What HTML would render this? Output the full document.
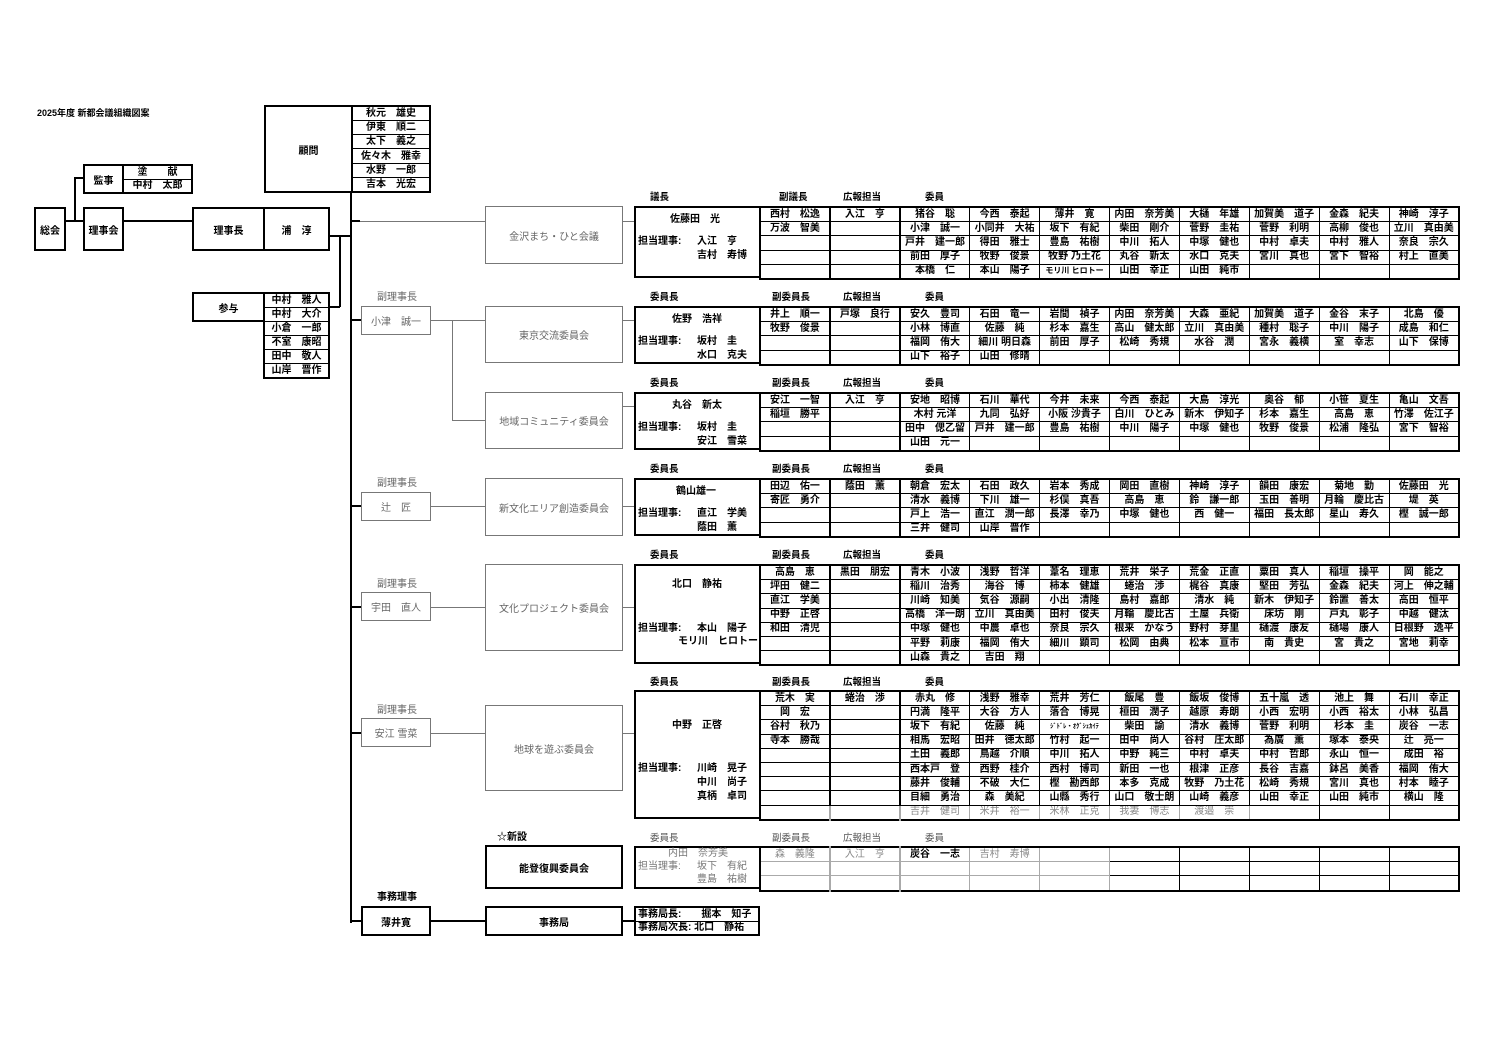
<!DOCTYPE html>
<html><head><meta charset="utf-8">
<style>
body{margin:0;width:1496px;height:1058px;position:relative;background:#fff;font-family:"Liberation Sans","Noto Sans CJK JP",sans-serif;overflow:hidden}
.a{position:absolute;white-space:nowrap;font-size:10px;line-height:14px}
.bd{font-weight:bold}
.b{position:absolute;border:2px solid #000;box-sizing:border-box;display:flex;align-items:center;justify-content:center;font-weight:bold;font-size:10px;background:#fff}
.g{position:absolute;border:1.5px solid #777;box-sizing:border-box;display:flex;align-items:center;justify-content:center;color:#666;font-size:10px;background:#fff}
.l{position:absolute;background:#000}
.lg{position:absolute;background:#777}
.h{position:absolute;font-size:9.5px;font-weight:bold;line-height:12px;white-space:nowrap}
.t{position:absolute;left:759px;width:701px;border-collapse:collapse;table-layout:fixed;border:2px solid #000}
.t td{border:1px solid #000;padding:0;height:13.2px;font-size:10px;font-weight:bold;text-align:center;white-space:nowrap;overflow:hidden;line-height:12px}
.t td:nth-child(1),.t td:nth-child(2){border-right:2px solid #000}
.t tr.gr td{color:#888;font-weight:normal;border-color:#aaa}
.t7 td:nth-child(-n+5){color:#888;font-weight:normal;border-color:#aaa}
.t7 td.k{color:#000;font-weight:bold}
.n{position:absolute;border-collapse:collapse;table-layout:fixed;border:2px solid #000}
.n td{border:1.5px solid #000;padding:0;font-size:10px;font-weight:bold;text-align:center;white-space:nowrap;line-height:11px}
.box{position:absolute;left:634px;width:125px;border:2px solid #000;box-sizing:border-box;border-right:none}
</style></head><body>

<div class="a bd" style="left:37px;top:106px;font-size:9px">2025年度 新都会議組織図案</div>

<div class="b" style="left:264px;top:105px;width:89px;height:88px;font-weight:bold">顧問</div>
<table class="n" style="left:351px;top:105px;width:80px;height:88px">
<tr><td>秋元　雄史</td></tr><tr><td>伊東　順二</td></tr><tr><td>太下　義之</td></tr><tr><td>佐々木　雅幸</td></tr><tr><td>水野　一郎</td></tr><tr><td>吉本　光宏</td></tr></table>

<div class="b" style="left:83px;top:164px;width:41px;height:30px">監事</div>
<table class="n" style="left:122px;top:164px;width:71px;height:30px">
<tr><td>塗　　献</td></tr><tr><td>中村　太郎</td></tr></table>

<div class="b" style="left:34px;top:207px;width:32px;height:44px">総会</div>
<div class="b" style="left:83px;top:207px;width:41px;height:44px">理事会</div>
<div class="b" style="left:192px;top:207px;width:73px;height:44px">理事長</div>
<div class="b" style="left:263px;top:207px;width:67px;height:44px">浦　淳</div>

<div class="l" style="left:65px;top:220px;width:18px;height:2px"></div>
<div class="l" style="left:74px;top:177px;width:2px;height:44px"></div>
<div class="l" style="left:74px;top:177px;width:9px;height:2px"></div>
<div class="l" style="left:123px;top:220px;width:69px;height:2px"></div>
<div class="l" style="left:329px;top:235px;width:22px;height:1.5px"></div>
<div class="l" style="left:339px;top:235px;width:1.5px;height:72px"></div>
<div class="l" style="left:329px;top:306px;width:11px;height:1.5px"></div>

<div class="b" style="left:192px;top:292px;width:73px;height:30px">参与</div>
<table class="n" style="left:263px;top:292px;width:67px;height:87px">
<tr><td>中村　雅人</td></tr><tr><td>中村　大介</td></tr><tr><td>小倉　一郎</td></tr><tr><td>不室　康昭</td></tr><tr><td>田中　敬人</td></tr><tr><td>山岸　晋作</td></tr></table>

<div class="l" style="left:350px;top:192px;width:2px;height:731px"></div>
<div class="l" style="left:350px;top:220px;width:10px;height:2px"></div>
<div class="lg" style="left:360px;top:221px;width:125px;height:1px"></div>

<div class="a" style="left:377px;top:291px;color:#666">副理事長</div>
<div class="g" style="left:361px;top:306px;width:70px;height:29px">小津　誠一</div>
<div class="a" style="left:377px;top:477px;color:#666">副理事長</div>
<div class="g" style="left:361px;top:492px;width:70px;height:29px">辻　匠</div>
<div class="a" style="left:377px;top:578px;color:#666">副理事長</div>
<div class="g" style="left:361px;top:592px;width:70px;height:29px">宇田　直人</div>
<div class="a" style="left:377px;top:704px;color:#666">副理事長</div>
<div class="g" style="left:361px;top:718px;width:70px;height:29px">安江 雪菜</div>
<div class="a bd" style="left:377px;top:891px">事務理事</div>
<div class="b" style="left:361px;top:906px;width:70px;height:30px">薄井寛</div>

<div class="l" style="left:350px;top:319px;width:11px;height:2px"></div>
<div class="l" style="left:350px;top:505px;width:11px;height:2px"></div>
<div class="l" style="left:350px;top:606px;width:11px;height:2px"></div>
<div class="l" style="left:350px;top:732px;width:11px;height:2px"></div>
<div class="l" style="left:350px;top:920px;width:11px;height:2px"></div>

<div class="lg" style="left:430px;top:320px;width:55px;height:1px"></div>
<div class="lg" style="left:452px;top:320px;width:1px;height:100px"></div>
<div class="lg" style="left:452px;top:420px;width:33px;height:1px"></div>
<div class="lg" style="left:430px;top:506px;width:55px;height:1px"></div>
<div class="lg" style="left:430px;top:607px;width:55px;height:1px"></div>
<div class="lg" style="left:430px;top:733px;width:55px;height:1px"></div>
<div class="l" style="left:430px;top:920px;width:55px;height:2px"></div>

<div class="g" style="left:485px;top:206px;width:138px;height:58px">金沢まち・ひと会議</div>
<div class="g" style="left:485px;top:306px;width:138px;height:57px">東京交流委員会</div>
<div class="g" style="left:485px;top:392px;width:138px;height:57px">地域コミュニティ委員会</div>
<div class="g" style="left:485px;top:478px;width:138px;height:58px">新文化エリア創造委員会</div>
<div class="g" style="left:485px;top:564px;width:138px;height:87px">文化プロジェクト委員会</div>
<div class="g" style="left:485px;top:705px;width:138px;height:86px">地球を遊ぶ委員会</div>
<div class="a bd" style="left:497px;top:831px">☆新設</div>
<div class="b" style="left:485px;top:845px;width:138px;height:44px">能登復興委員会</div>
<div class="b" style="left:485px;top:906px;width:138px;height:30px">事務局</div>

<div class="lg" style="left:622px;top:221px;width:12px;height:1px"></div>
<div class="lg" style="left:622px;top:320px;width:12px;height:1px"></div>
<div class="lg" style="left:622px;top:406px;width:12px;height:1px"></div>
<div class="lg" style="left:622px;top:506px;width:12px;height:1px"></div>
<div class="lg" style="left:622px;top:607px;width:12px;height:1px"></div>
<div class="lg" style="left:622px;top:733px;width:12px;height:1px"></div>
<div class="l" style="left:622px;top:920px;width:12px;height:2px"></div>

<div class="h" style="left:650px;top:192px">議長</div><div class="h" style="left:779px;top:192px">副議長</div><div class="h" style="left:843px;top:192px">広報担当</div><div class="h" style="left:925px;top:192px">委員</div>
<div class="h" style="left:650px;top:292px">委員長</div><div class="h" style="left:772px;top:292px">副委員長</div><div class="h" style="left:843px;top:292px">広報担当</div><div class="h" style="left:925px;top:292px">委員</div>
<div class="h" style="left:650px;top:378px">委員長</div><div class="h" style="left:772px;top:378px">副委員長</div><div class="h" style="left:843px;top:378px">広報担当</div><div class="h" style="left:925px;top:378px">委員</div>
<div class="h" style="left:650px;top:464px">委員長</div><div class="h" style="left:772px;top:464px">副委員長</div><div class="h" style="left:843px;top:464px">広報担当</div><div class="h" style="left:925px;top:464px">委員</div>
<div class="h" style="left:650px;top:550px">委員長</div><div class="h" style="left:772px;top:550px">副委員長</div><div class="h" style="left:843px;top:550px">広報担当</div><div class="h" style="left:925px;top:550px">委員</div>
<div class="h" style="left:650px;top:677px">委員長</div><div class="h" style="left:772px;top:677px">副委員長</div><div class="h" style="left:843px;top:677px">広報担当</div><div class="h" style="left:925px;top:677px">委員</div>
<div class="h" style="left:650px;top:833px;color:#555;font-weight:normal">委員長</div><div class="h" style="left:772px;top:833px;color:#555;font-weight:normal">副委員長</div><div class="h" style="left:843px;top:833px;color:#555;font-weight:normal">広報担当</div><div class="h" style="left:925px;top:833px;color:#555;font-weight:normal">委員</div>

<div class="box" style="top:206px;height:72px"></div>
<div class="a bd" style="left:670px;top:213px">佐藤田　光</div>
<div class="a bd" style="left:638px;top:235px">担当理事:</div>
<div class="a bd" style="left:697px;top:235px">入江　亨</div>
<div class="a bd" style="left:697px;top:249px">吉村　寿博</div>
<table class="t" style="top:206px">
<tr><td>西村　松逸</td><td>入江　亨</td><td>猪谷　聡</td><td>今西　泰起</td><td>薄井　寛</td><td>内田　奈芳美</td><td>大樋　年雄</td><td>加賀美　道子</td><td>金森　紀夫</td><td>神崎　淳子</td></tr>
<tr><td>万波　智美</td><td></td><td>小津　誠一</td><td>小同井　大祐</td><td>坂下　有紀</td><td>柴田　剛介</td><td>菅野　圭祐</td><td>菅野　利明</td><td>高柳　俊也</td><td>立川　真由美</td></tr>
<tr><td></td><td></td><td>戸井　建一郎</td><td>得田　雅士</td><td>豊島　祐樹</td><td>中川　拓人</td><td>中塚　健也</td><td>中村　卓夫</td><td>中村　雅人</td><td>奈良　宗久</td></tr>
<tr><td></td><td></td><td>前田　厚子</td><td>牧野　俊景</td><td>牧野 乃土花</td><td>丸谷　新太</td><td>水口　克夫</td><td>宮川　真也</td><td>宮下　智裕</td><td>村上　直美</td></tr>
<tr><td></td><td></td><td>本橋　仁</td><td>本山　陽子</td><td style="font-size:8px">モリ川 ヒロトー</td><td>山田　幸正</td><td>山田　純市</td><td></td><td></td><td></td></tr>
</table>

<div class="box" style="top:306px;height:58px"></div>
<div class="a bd" style="left:672px;top:313px">佐野　浩祥</div>
<div class="a bd" style="left:638px;top:335px">担当理事:</div>
<div class="a bd" style="left:697px;top:335px">坂村　圭</div>
<div class="a bd" style="left:697px;top:349px">水口　克夫</div>
<table class="t" style="top:306px">
<tr><td>井上　順一</td><td>戸塚　良行</td><td>安久　豊司</td><td>石田　竜一</td><td>岩間　禎子</td><td>内田　奈芳美</td><td>大森　亜紀</td><td>加賀美　道子</td><td>金谷　末子</td><td>北島　優</td></tr>
<tr><td>牧野　俊景</td><td></td><td>小林　博直</td><td>佐藤　純</td><td>杉本　嘉生</td><td>高山　健太郎</td><td>立川　真由美</td><td>種村　聡子</td><td>中川　陽子</td><td>成島　和仁</td></tr>
<tr><td></td><td></td><td>福岡　侑大</td><td>細川 明日森</td><td>前田　厚子</td><td>松崎　秀規</td><td>水谷　潤</td><td>宮永　義横</td><td>室　幸志</td><td>山下　保博</td></tr>
<tr><td></td><td></td><td>山下　裕子</td><td>山田　修晴</td><td></td><td></td><td></td><td></td><td></td><td></td></tr>
</table>

<div class="box" style="top:392px;height:58px"></div>
<div class="a bd" style="left:672px;top:399px">丸谷　新太</div>
<div class="a bd" style="left:638px;top:421px">担当理事:</div>
<div class="a bd" style="left:697px;top:421px">坂村　圭</div>
<div class="a bd" style="left:697px;top:435px">安江　雪菜</div>
<table class="t" style="top:392px">
<tr><td>安江　一智</td><td>入江　亨</td><td>安地　昭博</td><td>石川　華代</td><td>今井　未来</td><td>今西　泰起</td><td>大島　淳光</td><td>奥谷　郁</td><td>小笹　夏生</td><td>亀山　文吾</td></tr>
<tr><td>稲垣　勝平</td><td></td><td>木村 元洋</td><td>九同　弘好</td><td>小阪 沙貴子</td><td>白川　ひとみ</td><td>新木　伊知子</td><td>杉本　嘉生</td><td>高島　恵</td><td>竹澤　佐江子</td></tr>
<tr><td></td><td></td><td>田中　偲乙留</td><td>戸井　建一郎</td><td>豊島　祐樹</td><td>中川　陽子</td><td>中塚　健也</td><td>牧野　俊景</td><td>松浦　隆弘</td><td>宮下　智裕</td></tr>
<tr><td></td><td></td><td>山田　元一</td><td></td><td></td><td></td><td></td><td></td><td></td><td></td></tr>
</table>

<div class="box" style="top:478px;height:58px"></div>
<div class="a bd" style="left:676px;top:485px">鶴山雄一</div>
<div class="a bd" style="left:638px;top:507px">担当理事:</div>
<div class="a bd" style="left:697px;top:507px">直江　学美</div>
<div class="a bd" style="left:697px;top:521px">蔭田　薫</div>
<table class="t" style="top:478px">
<tr><td>田辺　佑一</td><td>蔭田　薫</td><td>朝倉　宏太</td><td>石田　政久</td><td>岩本　秀成</td><td>岡田　直樹</td><td>神崎　淳子</td><td>韻田　康宏</td><td>菊地　勤</td><td>佐藤田　光</td></tr>
<tr><td>寄匠　勇介</td><td></td><td>清水　義博</td><td>下川　雄一</td><td>杉俣　真吾</td><td>高島　恵</td><td>鈴　謙一郎</td><td>玉田　善明</td><td>月輪　慶比古</td><td>堤　英</td></tr>
<tr><td></td><td></td><td>戸上　浩一</td><td>直江　潤一郎</td><td>長澤　幸乃</td><td>中塚　健也</td><td>西　健一</td><td>福田　長太郎</td><td>星山　寿久</td><td>樫　誠一郎</td></tr>
<tr><td></td><td></td><td>三井　健司</td><td>山岸　晋作</td><td></td><td></td><td></td><td></td><td></td><td></td></tr>
</table>

<div class="box" style="top:564px;height:100px"></div>
<div class="a bd" style="left:672px;top:578px">北口　静祐</div>
<div class="a bd" style="left:638px;top:622px">担当理事:</div>
<div class="a bd" style="left:697px;top:622px">本山　陽子</div>
<div class="a bd" style="left:678px;top:635px">モリ川　ヒロトー</div>
<table class="t" style="top:564px">
<tr><td>高島　恵</td><td>黒田　朋宏</td><td>青木　小波</td><td>浅野　哲洋</td><td>葦名　理恵</td><td>荒井　栄子</td><td>荒金　正直</td><td>粟田　真人</td><td>稲垣　操平</td><td>岡　能之</td></tr>
<tr><td>坪田　健二</td><td></td><td>稲川　治秀</td><td>海谷　博</td><td>柿本　健雄</td><td>蜷治　渉</td><td>梶谷　真康</td><td>堅田　芳弘</td><td>金森　紀夫</td><td>河上　伸之輔</td></tr>
<tr><td>直江　学美</td><td></td><td>川崎　知美</td><td>気谷　源嗣</td><td>小出　清隆</td><td>島村　嘉郎</td><td>清水　純</td><td>新木　伊知子</td><td>鈴置　善太</td><td>高田　恒平</td></tr>
<tr><td>中野　正啓</td><td></td><td>高橋　洋一朗</td><td>立川　真由美</td><td>田村　俊夫</td><td>月輪　慶比古</td><td>土屋　兵衛</td><td>床坊　剛</td><td>戸丸　彰子</td><td>中越　健汰</td></tr>
<tr><td>和田　清児</td><td></td><td>中塚　健也</td><td>中農　卓也</td><td>奈良　宗久</td><td>根来　かなう</td><td>野村　芽里</td><td>樋渡　康友</td><td>樋場　康人</td><td>日根野　逸平</td></tr>
<tr><td></td><td></td><td>平野　莉康</td><td>福岡　侑大</td><td>細川　顕司</td><td>松岡　由典</td><td>松本　亘市</td><td>南　貴史</td><td>宮　貴之</td><td>宮地　莉幸</td></tr>
<tr><td></td><td></td><td>山森　貴之</td><td>吉田　翔</td><td></td><td></td><td></td><td></td><td></td><td></td></tr>
</table>

<div class="box" style="top:690px;height:129px"></div>
<div class="a bd" style="left:672px;top:719px">中野　正啓</div>
<div class="a bd" style="left:638px;top:762px">担当理事:</div>
<div class="a bd" style="left:697px;top:762px">川崎　晃子</div>
<div class="a bd" style="left:697px;top:776px">中川　尚子</div>
<div class="a bd" style="left:697px;top:790px">真柄　卓司</div>
<table class="t" style="top:690px">
<tr><td>荒木　実</td><td>蜷治　渉</td><td>赤丸　修</td><td>浅野　雅幸</td><td>荒井　芳仁</td><td>飯尾　豊</td><td>飯坂　俊博</td><td>五十嵐　透</td><td>池上　舞</td><td>石川　幸正</td></tr>
<tr><td>岡　宏</td><td></td><td>円満　隆平</td><td>大谷　方人</td><td>落合　博晃</td><td>桓田　潤子</td><td>越原　寿朗</td><td>小西　宏明</td><td>小西　裕太</td><td>小林　弘昌</td></tr>
<tr><td>谷村　秋乃</td><td></td><td>坂下　有紀</td><td>佐藤　純</td><td style="font-size:6.5px">ｼﾞﾄﾞﾚ・ｵｸﾞｼｪｶｲﾃ</td><td>柴田　諭</td><td>清水　義博</td><td>菅野　利明</td><td>杉本　圭</td><td>炭谷　一志</td></tr>
<tr><td>寺本　勝哉</td><td></td><td>相馬　宏昭</td><td>田井　徳太郎</td><td>竹村　起一</td><td>田中　尚人</td><td>谷村　庄太郎</td><td>為廣　薫</td><td>塚本　泰央</td><td>辻　亮一</td></tr>
<tr><td></td><td></td><td>土田　義郎</td><td>鳥越　介順</td><td>中川　拓人</td><td>中野　純三</td><td>中村　卓夫</td><td>中村　哲郎</td><td>永山　恒一</td><td>成田　裕</td></tr>
<tr><td></td><td></td><td>西本戸　登</td><td>西野　桂介</td><td>西村　博司</td><td>新田　一也</td><td>根津　正彦</td><td>長谷　吉嘉</td><td>鉢呂　美香</td><td>福岡　侑大</td></tr>
<tr><td></td><td></td><td>藤井　俊輔</td><td>不破　大仁</td><td>樫　勘西郎</td><td>本多　克成</td><td>牧野　乃土花</td><td>松崎　秀規</td><td>宮川　真也</td><td>村本　睦子</td></tr>
<tr><td></td><td></td><td>目細　勇治</td><td>森　美紀</td><td>山縣　秀行</td><td>山口　敬士朗</td><td>山崎　義彦</td><td>山田　幸正</td><td>山田　純市</td><td>横山　隆</td></tr>
<tr class="gr"><td></td><td></td><td>吉井　健司</td><td>米井　裕一</td><td>米林　正克</td><td>我妻　博志</td><td>渡邉　崇</td><td style="border-color:#000"></td><td style="border-color:#000"></td><td style="border-color:#000"></td></tr>
</table>

<div class="box" style="top:846px;height:43px;border-color:#000"></div>
<div class="a" style="left:668px;top:848px;line-height:12px;color:#777">内田　奈芳美</div>
<div class="a" style="left:638px;top:861px;line-height:12px;color:#777">担当理事:</div>
<div class="a" style="left:697px;top:861px;line-height:12px;color:#777">坂下　有紀</div>
<div class="a" style="left:697px;top:874px;line-height:12px;color:#777">豊島　祐樹</div>
<table class="t t7" style="top:846px">
<tr><td>森　義隆</td><td>入江　亨</td><td class="k">炭谷　一志</td><td>吉村　寿博</td><td></td><td></td><td></td><td></td><td></td><td></td></tr>
<tr><td></td><td></td><td></td><td></td><td></td><td></td><td></td><td></td><td></td><td></td></tr>
<tr><td></td><td></td><td></td><td></td><td></td><td></td><td></td><td></td><td></td><td></td></tr>
</table>

<table class="n" style="left:634px;top:906px;width:126px;height:30px">
<tr><td style="text-align:left;padding-left:2px">事務局長:　　掘本　知子</td></tr>
<tr><td style="text-align:left;padding-left:2px">事務局次長: 北口　静祐</td></tr></table>

</body></html>
